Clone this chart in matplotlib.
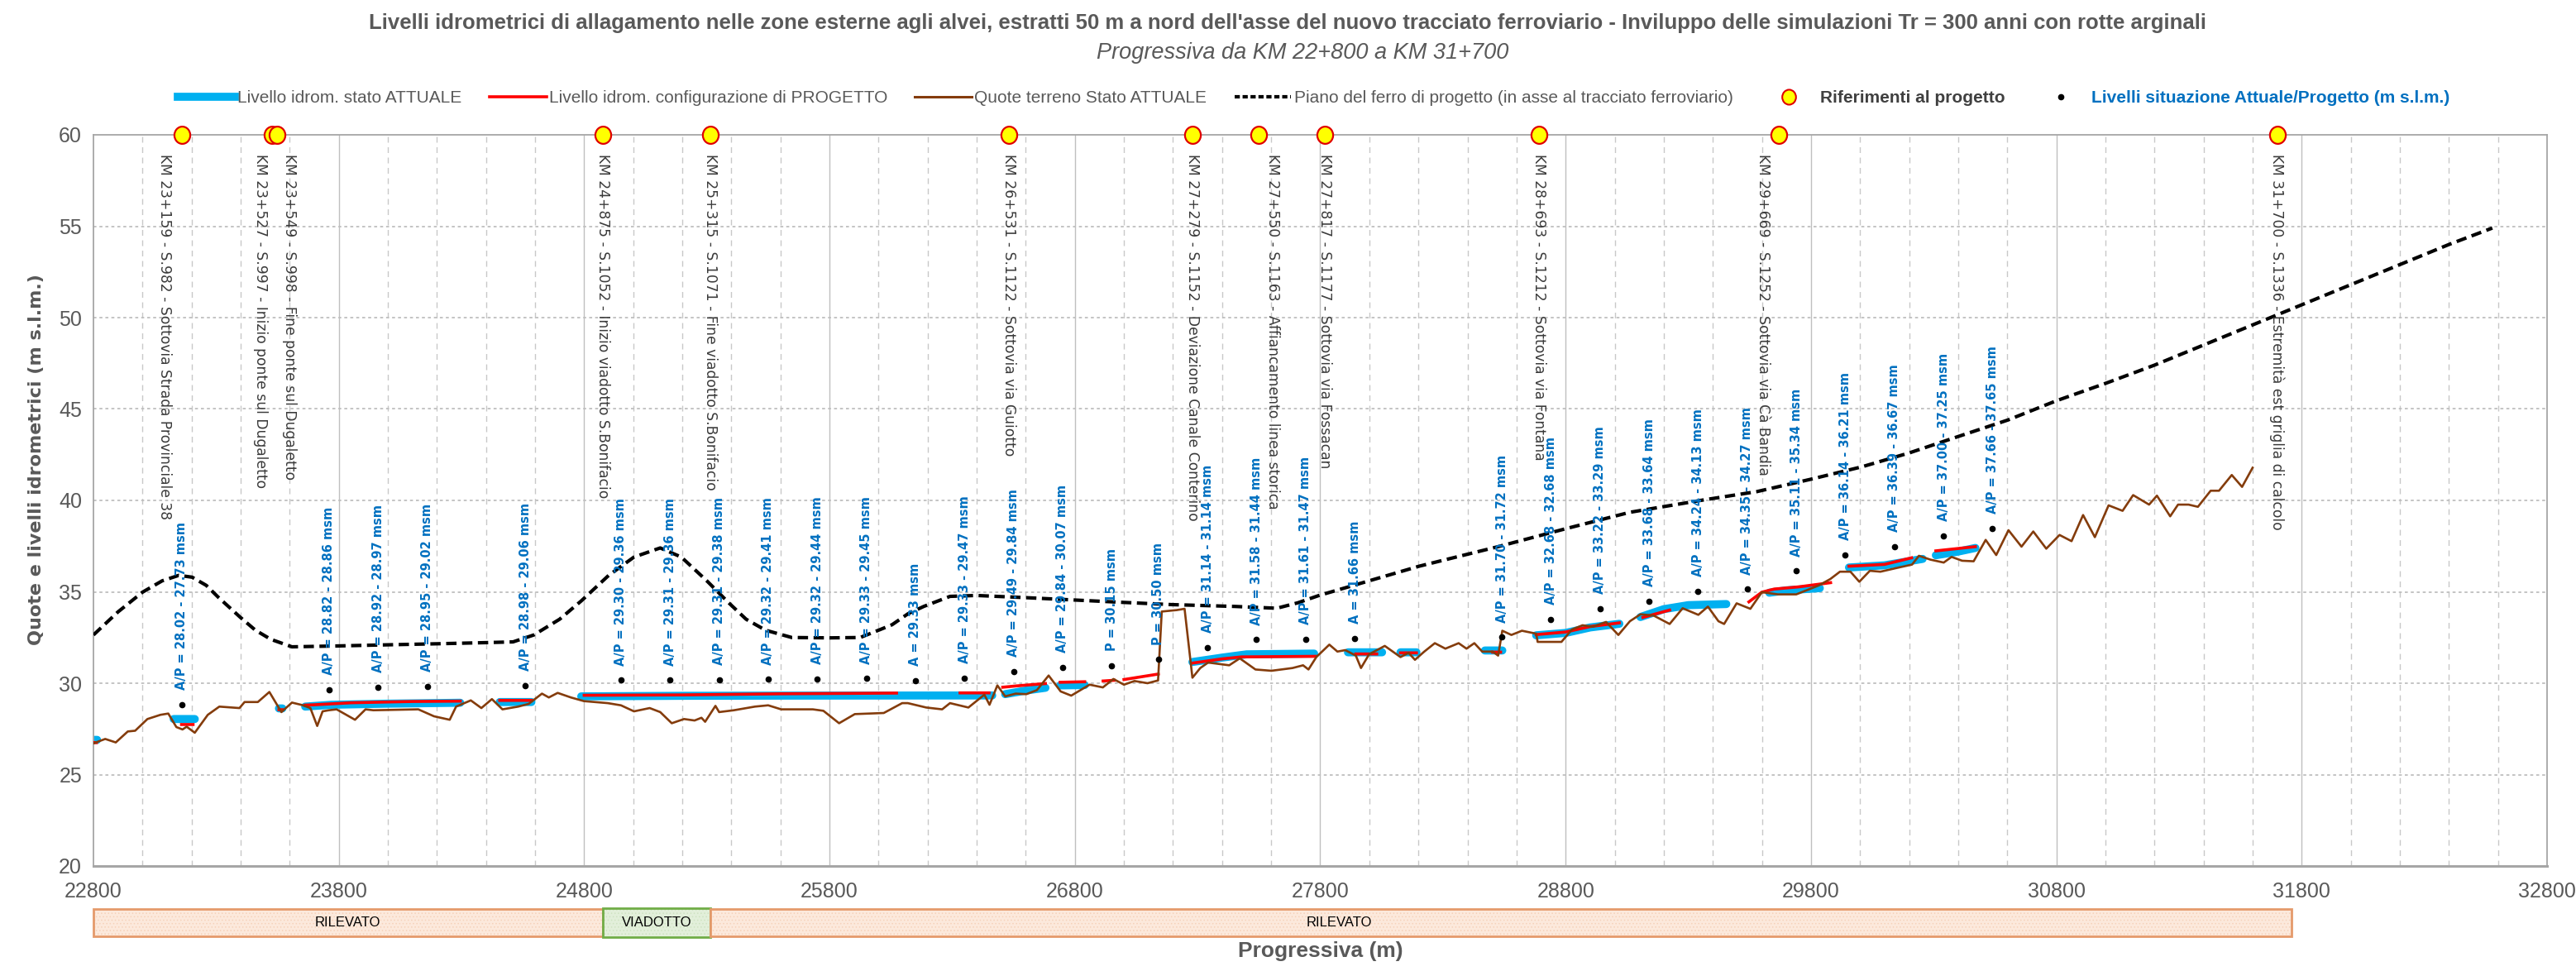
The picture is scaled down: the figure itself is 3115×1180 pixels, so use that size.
import numpy as np
import matplotlib.pyplot as plt
from matplotlib.lines import Line2D
from matplotlib.markers import MarkerStyle
from matplotlib.patches import Rectangle
from matplotlib.transforms import Affine2D

plt.rcParams['font.family'] = ['DejaVu Sans']
plt.rcParams['hatch.linewidth'] = 0.6
NARROW = ['Liberation Sans', 'DejaVu Sans']

# --- ground profile (Quote terreno Stato ATTUALE) ---
terr_x = [22800, 22848, 22891, 22940, 22970, 23020, 23073, 23105, 23138, 23163, 23180, 23213,
          23266, 23313, 23395, 23416, 23470, 23517, 23566, 23609, 23652, 23684, 23712, 23734,
          23759, 23791, 23866, 23909, 23941, 24124, 24188, 24252, 24278, 24338, 24381, 24424,
          24467, 24531, 24574, 24628, 24656, 24692, 24746, 24799, 24896, 24950, 25003, 25067,
          25110, 25157, 25207, 25250, 25278, 25293, 25335, 25350, 25410, 25496, 25550, 25603,
          25732, 25775, 25839, 25903, 26021, 26096, 26119, 26194, 26259, 26291, 26366, 26431,
          26452, 26484, 26516, 26559, 26602, 26645, 26693, 26742, 26785, 26860, 26914, 26957,
          27000, 27043, 27096, 27139, 27154, 27215, 27247, 27279, 27311, 27343, 27429, 27472,
          27536, 27601, 27687, 27730, 27752, 27784, 27837, 27870, 27902, 27945, 27966, 27999,
          28063, 28127, 28160, 28186, 28224, 28267, 28310, 28364, 28396, 28428, 28460, 28503,
          28525, 28542, 28579, 28622, 28680, 28686, 28783, 28826, 28869, 28911, 28965, 29015,
          29062, 29105, 29159, 29224, 29277, 29341, 29380, 29423, 29446, 29497, 29553, 29600,
          29665, 29740, 29832, 29879, 29918, 29961, 29997, 30040, 30083, 30158, 30212, 30240,
          30287, 30341, 30373, 30416, 30463, 30512, 30555, 30605, 30658, 30706, 30759, 30813,
          30862, 30909, 30957, 31013, 31070, 31113, 31178, 31210, 31264, 31296, 31339, 31377,
          31429, 31463, 31515, 31557, 31600]
terr_y = [26.71, 26.95, 26.76, 27.36, 27.40, 28.04, 28.27, 28.34, 27.60, 27.47, 27.62, 27.29,
          28.27, 28.72, 28.64, 28.97, 28.97, 29.52, 28.42, 28.94, 28.80, 28.64, 27.66, 28.46,
          28.52, 28.57, 28.00, 28.57, 28.52, 28.57, 28.19, 28.00, 28.72, 29.06, 28.64, 29.13,
          28.57, 28.72, 28.87, 29.43, 29.22, 29.47, 29.22, 29.02, 28.91, 28.79, 28.46, 28.64,
          28.42, 27.81, 28.04, 27.96, 28.11, 27.89, 28.76, 28.42, 28.52, 28.72, 28.79, 28.57,
          28.57, 28.49, 27.81, 28.31, 28.37, 28.91, 28.91, 28.67, 28.57, 28.91, 28.67, 29.37,
          28.82, 29.88, 29.28, 29.43, 29.40, 29.62, 30.42, 29.55, 29.32, 29.92, 29.77, 30.23,
          29.92, 30.12, 30.00, 30.15, 33.92, 34.00, 34.07, 30.30, 30.83, 31.13, 30.98, 31.36,
          30.75, 30.68, 30.83, 30.98, 30.75, 31.43, 32.11, 31.73, 31.81, 31.51, 30.83, 31.58,
          32.04, 31.43, 31.66, 31.28, 31.73, 32.19, 31.89, 32.19, 31.89, 32.19, 31.73, 31.73,
          31.51, 32.87, 32.64, 32.87, 32.71, 32.26, 32.26, 32.94, 33.17, 33.09, 33.35, 32.64,
          33.39, 33.77, 33.70, 33.24, 34.10, 33.74, 34.19, 33.39, 33.24, 34.37, 34.07, 34.98,
          34.86, 34.86, 35.35, 35.70, 36.10, 36.10, 35.55, 36.15, 36.10, 36.33, 36.49, 36.97,
          36.76, 36.60, 36.91, 36.70, 36.67, 37.84, 37.01, 38.37, 37.47, 38.30, 37.36, 38.11,
          37.77, 39.20, 37.99, 39.73, 39.43, 40.29, 39.77, 40.26, 39.13, 39.77, 39.77, 39.65,
          40.53, 40.53, 41.39, 40.74, 41.79]

# --- design rail level (Piano del ferro di progetto) ---
rail_x = [22800, 22900, 23000, 23080, 23148, 23202, 23260, 23309, 23399, 23460, 23523, 23609,
          23800, 24000, 24210, 24400, 24510, 24595, 24700, 24788, 24900, 25003, 25110, 25196,
          25300, 25389, 25460, 25539, 25646, 25800, 25925, 26000, 26055, 26120, 26184, 26291,
          26398, 26600, 26800, 27000, 27193, 27451, 27623, 27709, 27795, 27999, 28203, 28525,
          28800, 29062, 29364, 29579, 29800, 30008, 30201, 30401, 30603, 30800, 31000, 31200,
          31400, 31600, 31800, 32000, 32200, 32400, 32577]
rail_y = [32.64, 33.90, 34.98, 35.60, 35.90, 35.80, 35.35, 34.70, 33.60, 32.90, 32.40, 31.99,
          32.04, 32.10, 32.16, 32.22, 32.26, 32.64, 33.50, 34.50, 35.90, 36.90, 37.40, 36.90,
          35.60, 34.40, 33.50, 32.90, 32.50, 32.48, 32.50, 32.90, 33.20, 33.80, 34.20, 34.75,
          34.80, 34.68, 34.55, 34.42, 34.30, 34.20, 34.10, 34.40, 34.80, 35.60, 36.40, 37.47,
          38.45, 39.35, 40.03, 40.48, 41.16, 41.84, 42.60, 43.50, 44.40, 45.45, 46.40, 47.40,
          48.50, 49.60, 50.70, 51.80, 52.90, 54.00, 54.90]

# --- water level, present state (NaN separates stretches) ---
att_x = [22800, 22815, np.nan, 23127, 23213, np.nan, 23556, 23570, np.nan,
         23663, 23770, 24000, 24295, np.nan, 24456, 24585, np.nan,
         24788, 25200, 25600, 26463, np.nan, 26516, 26600, 26680, np.nan, 26740, 26840, np.nan,
         27279, 27400, 27500, 27775, np.nan, 27913, 28052, np.nan, 28127, 28192, np.nan,
         28471, 28542, np.nan, 28680, 28800, 28900, 29019, np.nan,
         29105, 29200, 29300, 29455, np.nan, 29630, 29700, 29836, np.nan,
         29955, 30100, 30255, np.nan, 30309, 30400, 30470]
att_y = [26.90, 26.90, np.nan, 28.04, 28.04, np.nan, 28.62, 28.62, np.nan,
         28.72, 28.82, 28.88, 28.93, np.nan, 28.97, 28.97, np.nan,
         29.28, 29.31, 29.32, 29.33, np.nan, 29.40, 29.60, 29.75, np.nan, 29.88, 29.90, np.nan,
         31.16, 31.40, 31.58, 31.62, np.nan, 31.69, 31.69, np.nan, 31.69, 31.69, np.nan,
         31.79, 31.79, np.nan, 32.62, 32.75, 33.05, 33.25, np.nan,
         33.62, 34.05, 34.27, 34.33, np.nan, 34.95, 35.08, 35.20, np.nan,
         36.33, 36.45, 36.80, np.nan, 37.00, 37.20, 37.40]

# --- water level, design configuration ---
prg_x = [22800, 22812, np.nan, 23159, 23206, np.nan, 23556, 23570, np.nan,
         23663, 23700, 23850, 24100, 24295, np.nan, 24456, 24585, np.nan,
         24800, 25200, 25600, 26073, np.nan, 26332, 26450, np.nan,
         26506, 26560, 26680, np.nan, 26740, 26840, np.nan, 26915, 26960, np.nan, 27000, 27140, np.nan,
         27279, 27400, 27480, 27780, np.nan, 27945, 28030, np.nan, 28127, 28192, np.nan,
         28503, 28535, np.nan, 28680, 28800, 28900, 29019, np.nan, 29115, 29224, np.nan,
         29547, 29600, 29650, 29750, 29880, np.nan, 29955, 30100, 30210, np.nan, 30309, 30470]
prg_y = [26.75, 26.75, np.nan, 27.74, 27.74, np.nan, 28.55, 28.55, np.nan,
         28.80, 28.82, 28.93, 29.00, 29.02, np.nan, 29.06, 29.06, np.nan,
         29.34, 29.36, 29.42, 29.46, np.nan, 29.47, 29.47, np.nan,
         29.78, 29.85, 29.98, np.nan, 30.05, 30.08, np.nan, 30.12, 30.16, np.nan, 30.20, 30.50, np.nan,
         31.10, 31.33, 31.44, 31.47, np.nan, 31.60, 31.60, np.nan, 31.66, 31.66, np.nan,
         31.70, 31.70, np.nan, 32.66, 32.80, 33.10, 33.30, np.nan, 33.60, 34.00, np.nan,
         34.45, 34.98, 35.15, 35.27, 35.50, np.nan, 36.40, 36.50, 36.86, np.nan, 37.24, 37.47]

# --- labelled levels (A = attuale, P = progetto) ---
lev_x = [23160, 23760, 23960, 24160, 24560, 24950, 25150, 25350, 25550, 25750, 25950, 26150,
         26350, 26550, 26750, 26950, 27140, 27340, 27540, 27740, 27940, 28540, 28740, 28940,
         29140, 29340, 29540, 29740, 29940, 30140, 30340, 30540]
lev_a = [28.02, 28.82, 28.92, 28.95, 28.98, 29.30, 29.31, 29.31, 29.32, 29.32, 29.33, 29.33,
         29.33, 29.49, 29.84, np.nan, np.nan, 31.14, 31.58, 31.61, 31.66, 31.70, 32.68, 33.22,
         33.68, 34.24, 34.35, 35.11, 36.14, 36.39, 37.00, 37.66]
lev_p = [27.73, 28.86, 28.97, 29.02, 29.06, 29.36, 29.36, 29.38, 29.41, 29.44, 29.45, np.nan,
         29.47, 29.84, 30.07, 30.15, 30.50, 31.14, 31.44, 31.47, np.nan, 31.72, 32.68, 33.29,
         33.64, 34.13, 34.27, 35.34, 36.21, 36.67, 37.25, 37.65]

# --- project references ---
ref_km = [23159, 23527, 23549, 24875, 25315, 26531, 27279, 27550, 27817, 28693, 29669, 31700]
ref_text = ['KM 23+159 - S.982 - Sottovia Strada Provinciale 38',
            'KM 23+527 - S.997 - Inizio ponte sul Dugaletto',
            'KM 23+549 - S.998 - Fine ponte sul Dugaletto',
            'KM 24+875 - S.1052 - Inizio viadotto S.Bonifacio',
            'KM 25+315 - S.1071 - Fine viadotto S.Bonifacio',
            'KM 26+531 - S.1122 - Sottovia via Guiotto',
            'KM 27+279 - S.1152 - Deviazione Canale Conterino',
            'KM 27+550 - S.1163 - Affiancamento linea storica',
            'KM 27+817 - S.1177 - Sottovia via Fossacan',
            'KM 28+693 - S.1212 - Sottovia via Fontana',
            'KM 29+669 - S.1252 - Sottovia via Cà Bandia',
            'KM 31+700 - S.1336 - Estremità est griglia di calcolo']
ref_nudge = [-70, -45, 50, 0, 0, 0, 0, 55, 0, 0, -65, 0]

# --- works strip ---
strip_start = [22800, 24875, 25315]
strip_end = [24875, 25315, 31760]
strip_type = ['RILEVATO', 'VIADOTTO', 'RILEVATO']
strip_label_x = [23837, 25095, 27876]

GRAY = '#595959'
BLUE = '#0070C0'

fig = plt.figure(figsize=(31.15, 11.8), dpi=100)
W, H = 3115, 1180
AX_L, AX_R = 113 / W, 3080 / W
ax = fig.add_axes([AX_L, 1 - 1047 / H, AX_R - AX_L, (1047 - 163) / H])

ax.set_xlim(22800, 32800)
ax.set_ylim(20, 60)

# grid
for xv in np.arange(23000, 32800, 200):
    if (xv - 22800) % 1000 == 0:
        ax.axvline(xv, color='#BFBFBF', lw=1.0, zorder=0)
    else:
        ax.axvline(xv, color='#C8C8C8', lw=1.0, dashes=(5, 4), zorder=0)
for yv in range(25, 60, 5):
    ax.axhline(yv, color='#BFBFBF', lw=1.3, dashes=(2, 2), zorder=0)

ax.plot(att_x, att_y, color='#00B0F0', lw=7, solid_capstyle='round', zorder=2)
ax.plot(prg_x, prg_y, color='#FF0000', lw=2.6, zorder=3)
ax.plot(terr_x, terr_y, color='#843C0C', lw=1.9, zorder=4)
ax.plot(rail_x, rail_y, color='black', lw=3, dashes=(3, 1.6), zorder=5)

# level dots + labels
for x, a, p in zip(lev_x, lev_a, lev_p):
    top = np.nanmax([a, p])
    if np.isnan(a):
        txt = f'P = {p:.2f} msm'
    elif np.isnan(p):
        txt = f'A = {a:.2f} msm'
    else:
        txt = f'A/P = {a:.2f} - {p:.2f} msm'
    ax.plot(x, top + 0.8, 'o', color='black', ms=4.5, zorder=6)
    ax.text(x, top + 1.6, txt, rotation=90, ha='center', va='bottom',
            color=BLUE, fontsize=10.5, fontweight='bold', zorder=6)

# project references (slightly tall ellipses)
ellipse = MarkerStyle('o', transform=Affine2D().scale(0.92, 1.0))
ax.plot(ref_km, [60] * len(ref_km), marker=ellipse, ms=15, mfc='#FFFF00', mec='#E00000', mew=1.6,
        clip_on=False, zorder=10, ls='none')
for km, t, dx in zip(ref_km, ref_text, ref_nudge):
    ax.text(km + dx, 58.95, t, rotation=-90, ha='center', va='top',
            color='#3A3A3A', fontsize=12.3, zorder=6)

for s in ['left', 'right', 'top']:
    ax.spines[s].set_color('#A6A6A6')
    ax.spines[s].set_linewidth(1.3)
ax.spines['bottom'].set_color('#A6A6A6')
ax.spines['bottom'].set_linewidth(2.2)

ax.set_xticks(np.arange(22800, 32801, 1000))
ax.set_yticks(np.arange(20, 61, 5))
ax.tick_params(length=0, colors=GRAY, labelsize=18)
ax.tick_params(axis='y', pad=10)
ax.tick_params(axis='x', pad=14)
for lab in ax.get_xticklabels() + ax.get_yticklabels():
    lab.set_family(NARROW)

# works strip
sax = fig.add_axes([AX_L, 1 - 1132 / H, AX_R - AX_L, 33 / H])
sax.set_xlim(22800, 32800)
sax.set_ylim(0, 1)
sax.axis('off')
for x0, x1, kind, lx in zip(strip_start, strip_end, strip_type, strip_label_x):
    if kind == 'VIADOTTO':
        fc, ec, hc, y0, h = '#E2EFDA', '#70AD47', '#CFE3C2', -0.04, 1.08
    else:
        fc, ec, hc, y0, h = '#FCE9DC', '#E59A6B', '#F6D2BA', 0.0, 1.0
    sax.add_patch(Rectangle((x0, y0), x1 - x0, h, facecolor=fc, edgecolor='none', clip_on=False))
    sax.add_patch(Rectangle((x0, y0), x1 - x0, h, facecolor='none', edgecolor=hc, lw=0,
                            hatch='....', clip_on=False))
    sax.add_patch(Rectangle((x0, y0), x1 - x0, h, facecolor='none', edgecolor=ec, lw=2, clip_on=False))
    sax.text(lx, 0.5, kind, ha='center', va='center', fontsize=12, family=NARROW, color='black')

# titles and axis titles
fig.text(0.5, 1 - 28 / H, "Livelli idrometrici di allagamento nelle zone esterne agli alvei, estratti 50 m a nord "
         "dell'asse del nuovo tracciato ferroviario - Inviluppo delle simulazioni Tr = 300 anni con rotte arginali",
         ha='center', va='center', fontsize=18.5, fontweight='bold', color=GRAY, family=NARROW)
fig.text(0.5 + 18 / W, 1 - 64 / H, 'Progressiva da KM 22+800 a KM 31+700', ha='center', va='center',
         fontsize=19.5, style='italic', color=GRAY, family=NARROW)
fig.text((AX_L + AX_R) / 2, 1 - 1150 / H, 'Progressiva (m)', ha='center', va='center', fontsize=19,
         fontweight='bold', color=GRAY, family=NARROW)
fig.text(44 / W, 1 - 556 / H, 'Quote e livelli idrometrici (m s.l.m.)', rotation=90, ha='center',
         va='center', fontsize=16, fontweight='bold', color=GRAY)

handles = [Line2D([], [], color='#00B0F0', lw=7),
           Line2D([], [], color='#FF0000', lw=2.6),
           Line2D([], [], color='#843C0C', lw=2.2),
           Line2D([], [], color='black', lw=3, dashes=(1.5, 0.8)),
           Line2D([], [], ls='none', marker=ellipse, ms=13, mfc='#FFFF00', mec='#E00000', mew=1.5),
           Line2D([], [], ls='none', marker='o', ms=4.5, color='black')]
labels = ['Livello idrom. stato ATTUALE', 'Livello idrom. configurazione di PROGETTO',
          'Quote terreno Stato ATTUALE',
          'Piano del ferro di progetto (in asse al tracciato ferroviario)',
          'Riferimenti al progetto', 'Livelli situazione Attuale/Progetto (m s.l.m.)']
leg = fig.legend(handles, labels, loc='center left', bbox_to_anchor=(205 / W, 1 - 119 / H), ncol=6,
                 frameon=False, handlelength=3.3, handletextpad=0.15, columnspacing=1.6,
                 borderpad=0, prop={'family': NARROW, 'size': 15})
for i, t in enumerate(leg.get_texts()):
    t.set_color(GRAY)
    if i == 4:
        t.set_color('#404040')
        t.set_fontweight('bold')
    if i == 5:
        t.set_color(BLUE)
        t.set_fontweight('bold')

fig.savefig('out.png', dpi=100)
